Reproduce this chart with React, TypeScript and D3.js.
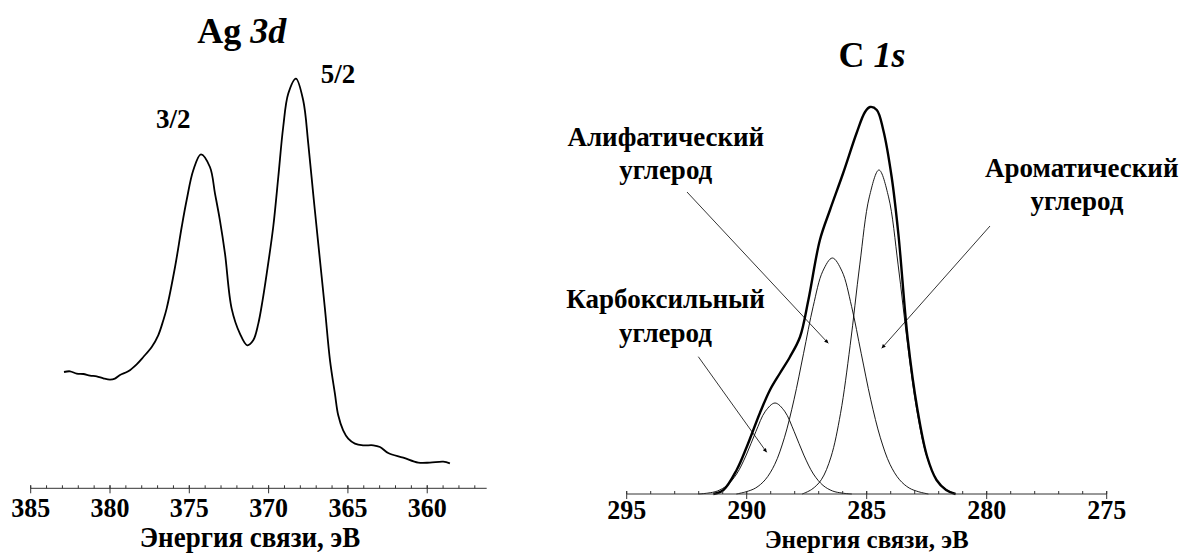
import React from 'react';
import * as d3 from 'd3';

// ---------- Ag 3d spectrum (binding energy, eV / intensity, a.u.) ----------
const agBE = [382.90, 382.52, 382.10, 381.68, 381.26, 380.84, 380.42, 380.00, 379.69, 379.37, 378.85, 378.32, 377.90, 377.37, 376.96, 376.64, 376.43, 375.90, 375.48, 375.17, 374.75, 374.27, 373.70, 373.38, 373.07, 372.75, 372.33, 371.81, 371.35, 370.97, 370.65, 370.38, 370.12, 369.71, 369.39, 369.08, 368.76, 368.28, 367.82, 367.50, 367.19, 366.87, 366.45, 366.13, 365.82, 365.61, 365.30, 364.98, 364.56, 364.03, 363.40, 362.98, 362.46, 361.51, 360.57, 359.83, 358.99, 358.57];
const agCounts = [116.3, 117, 114.7, 114.3, 112.7, 112, 110, 108.7, 109.7, 113.3, 117, 124, 131.3, 141.3, 153, 168, 179.7, 221.3, 261.3, 288, 318, 334, 321.3, 294.7, 268, 234.7, 179.7, 154.7, 143, 148, 164.7, 188, 214.7, 261.3, 311.3, 361.3, 394.7, 409.7, 388, 344.7, 294.7, 244.7, 179.7, 128, 94.7, 73, 58, 49.7, 44.7, 43, 43, 41.3, 35.3, 30.7, 25.7, 25.7, 26.7, 25];
const agTicks = [385, 380, 375, 370, 365, 360];

// ---------- C 1s spectrum: measured envelope ----------
const c1sBE = [291.39, 290.97, 290.42, 290.0, 289.45, 289.03, 288.61, 288.2, 287.78, 287.43, 286.95, 286.53, 285.98, 285.42, 285.07, 284.86, 284.58, 284.31, 283.96, 283.68, 283.29, 282.89, 282.49, 282.09, 281.69, 281.3];
const c1sCounts = [0, 4, 24, 47, 81, 104, 121, 137, 157, 194, 254, 284, 321, 361, 382, 387, 384, 364, 317, 260, 155, 85, 38, 14, 4, 0];

// ---------- C 1s components ----------
const carboxylBE = [292.02, 291.62, 291.22, 290.82, 290.42, 290.02, 289.62, 289.22, 288.82, 288.42, 288.02, 287.62, 287.22, 286.82, 286.42, 286.02, 285.62];
const carboxylCounts = [0, 0.9, 3.0, 8.6, 20.0, 38.9, 62.3, 82.8, 91, 82.8, 62.3, 38.9, 20.0, 8.6, 3.0, 0.9, 0];

const aliphaticBE = [290.43, 290.03, 289.63, 289.23, 288.83, 288.43, 288.03, 287.63, 287.23, 286.83, 286.43, 286.03, 285.63, 285.23, 284.83, 284.43, 284.03, 283.63, 283.23, 282.83, 282.43];
const aliphaticCounts = [0, 2.2, 6.0, 14.2, 29.7, 56.2, 94.2, 140.7, 187.6, 222.8, 236, 222.8, 187.6, 140.7, 94.2, 56.2, 29.7, 14.2, 6.0, 2.2, 0];

const aromaticBE = [287.69, 287.29, 286.89, 286.49, 286.09, 285.69, 285.29, 284.89, 284.49, 284.09, 283.69, 283.29, 282.89, 282.49, 282.09, 281.69, 281.29];
const aromaticCounts = [0, 4.6, 14.3, 36.9, 80.7, 148.4, 229.1, 297.1, 324, 297.1, 229.1, 148.4, 80.7, 36.9, 14.3, 4.6, 0];
const c1sTicks = [295, 290, 285, 280, 275];

const axisTitle = 'Энергия связи, эВ';

const FONT = 'Liberation Serif';

function makePath(xs: number[], ys: number[], xS: any, yS: any) {
  const gen = d3
    .line<number>()
    .x((d) => xS(d))
    .y((_, i) => yS(ys[i]))
    .curve(d3.curveCatmullRom.alpha(0.5));
  return gen(xs) || '';
}

const txt = (size: number) => ({ fontFamily: FONT, fontWeight: 700, fontSize: size + 'px' } as React.CSSProperties);

function T({ x, y, size, sy = 1, children }: any) {
  return (
    <text transform={`translate(${x},${y}) scale(1,${sy})`} x={0} y={0} textAnchor="middle" style={txt(size)}>
      {children}
    </text>
  );
}

function Axis({ x, y, from, to, labels, labelDy, titleX, titleY, titleSize, titleSy }: any) {
  const minors = d3.range(Math.ceil(Math.min(from, to)), Math.floor(Math.max(from, to)) + 1);
  return (
    <g>
      <line x1={x(from)} x2={x(to)} y1={y} y2={y} stroke="#333" strokeWidth={1} />
      {minors.map((v: number) => (
        <line key={'m' + v} x1={x(v)} x2={x(v)} y1={y - 3} y2={y} stroke="#333" strokeWidth={1} />
      ))}
      {labels.map((v: number) => (
        <line key={'M' + v} x1={x(v)} x2={x(v)} y1={y - 3} y2={y + 5} stroke="#333" strokeWidth={1} />
      ))}
      {labels.map((v: number) => (
        <T key={'t' + v} x={x(v)} y={y + labelDy} size={26} sy={1.06}>
          {v}
        </T>
      ))}
      <T x={titleX} y={titleY} size={titleSize} sy={titleSy}>
        {axisTitle}
      </T>
    </g>
  );
}

export default function App() {
  const W = 1181;
  const H = 553;

  const xAg = d3.scaleLinear().domain([385, 356.25]).range([30.7, 486.7]);
  const yAg = d3.scaleLinear().domain([0, 400]).range([488.3, 88.3]);
  const xC = d3.scaleLinear().domain([295, 275]).range([626.7, 1106.7]);
  const yC = d3.scaleLinear().domain([0, 400]).range([494, 94]);

  return (
    <svg width={W} height={H} style={{ position: 'absolute', left: 0, top: 0, background: '#fff' }}>
      <defs>
        <marker id="arr" viewBox="0 0 10 10" refX={10} refY={5} markerWidth={6} markerHeight={4} markerUnits="userSpaceOnUse" orient="auto">
          <path d="M0,0 L10,5 L0,10 z" fill="#000" />
        </marker>
      </defs>

      {/* Ag 3d panel */}
      <T x={241.7} y={43} size={36}>
        Ag <tspan fontStyle="italic">3d</tspan>
      </T>
      <path d={makePath(agBE, agCounts, xAg, yAg)} fill="none" stroke="#000" strokeWidth={1.8} />
      <T x={173.3} y={128.3} size={27} sy={1.04}>3/2</T>
      <T x={338} y={83.3} size={27} sy={1.04}>5/2</T>
      <Axis x={xAg} y={488.3} from={385} to={356.25} labels={agTicks} labelDy={28.4} titleX={250} titleY={546.7} titleSize={27} titleSy={1.1} />

      {/* C 1s panel */}
      <T x={872} y={66.7} size={36}>
        C <tspan fontStyle="italic">1s</tspan>
      </T>
      <path d={makePath(carboxylBE, carboxylCounts, xC, yC)} fill="none" stroke="#000" strokeWidth={0.9} />
      <path d={makePath(aliphaticBE, aliphaticCounts, xC, yC)} fill="none" stroke="#000" strokeWidth={0.9} />
      <path d={makePath(aromaticBE, aromaticCounts, xC, yC)} fill="none" stroke="#000" strokeWidth={0.9} />
      <path d={makePath(c1sBE, c1sCounts, xC, yC)} fill="none" stroke="#000" strokeWidth={2.4} />

      <T x={665.8} y={145.7} size={27}>Алифатический</T>
      <T x={665.8} y={179} size={27}>углерод</T>
      <T x={665.5} y={308.3} size={27}>Карбоксильный</T>
      <T x={665.5} y={341.7} size={27}>углерод</T>
      <T x={1081.7} y={177} size={27}>Ароматический</T>
      <T x={1077} y={210} size={27}>углерод</T>

      <line x1={687} y1={192} x2={828.3} y2={343.3} stroke="#000" strokeWidth={0.8} markerEnd="url(#arr)" />
      <line x1={990} y1={226} x2={881.7} y2={348.3} stroke="#000" strokeWidth={0.8} markerEnd="url(#arr)" />
      <line x1={698.3} y1={356.7} x2={766.7} y2={452.3} stroke="#000" strokeWidth={0.8} markerEnd="url(#arr)" />

      <Axis x={xC} y={494} from={295} to={275} labels={c1sTicks} labelDy={25} titleX={866.7} titleY={547.5} titleSize={25} titleSy={1} />
    </svg>
  );
}
